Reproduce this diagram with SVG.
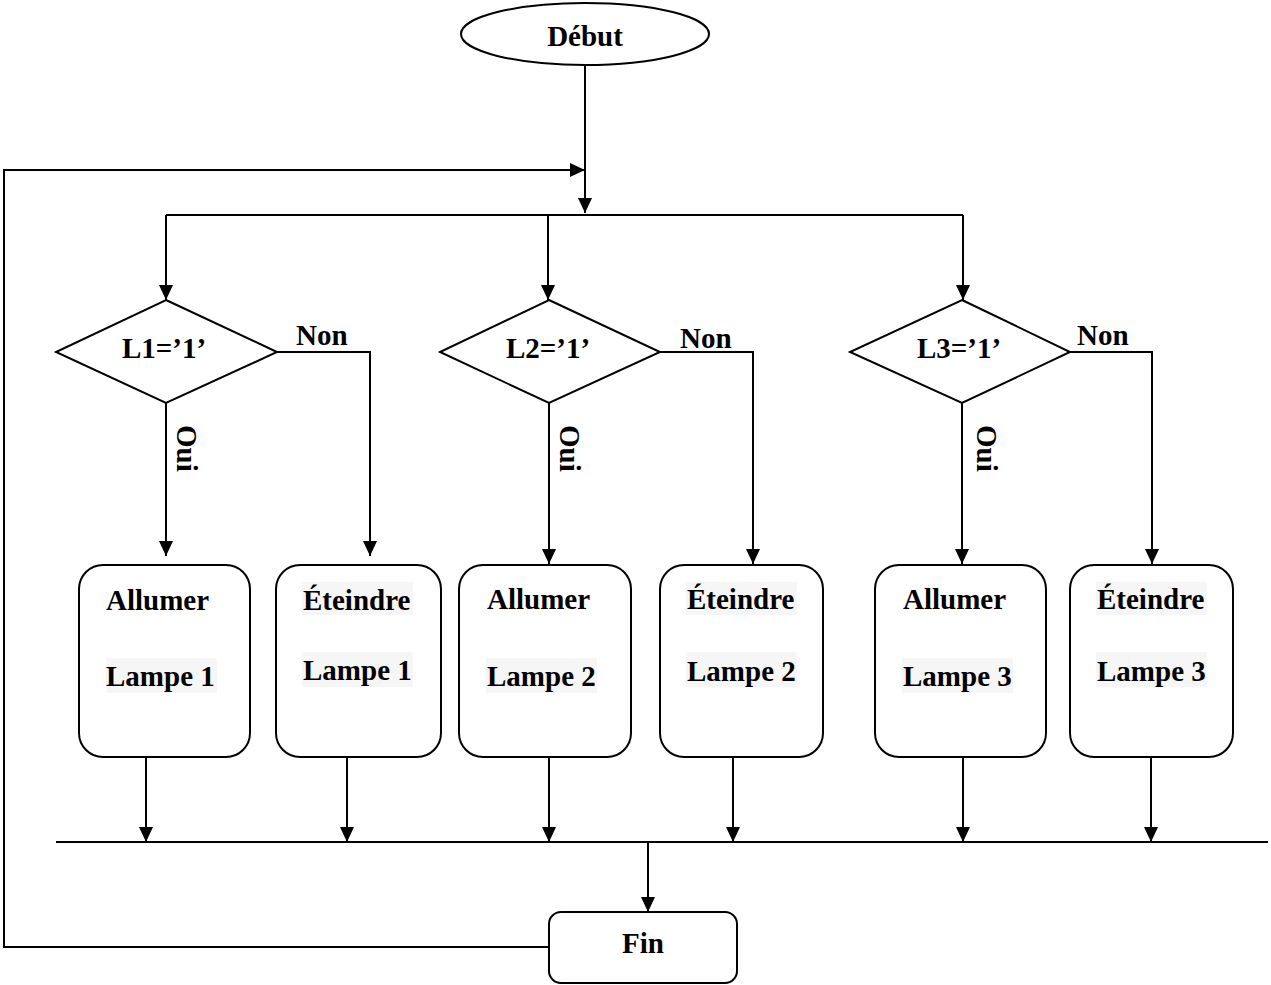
<svg xmlns="http://www.w3.org/2000/svg" width="1271" height="985" viewBox="0 0 1271 985">
<defs>
<marker id="ah" markerUnits="userSpaceOnUse" markerWidth="16" markerHeight="16" refX="15" refY="7" orient="auto">
<path d="M0,0 L15,7 L0,14 z" fill="#000"/>
</marker>
<style>
.sh{fill:#fff;stroke:#000;stroke-width:2}
.ln{fill:none;stroke:#000;stroke-width:2}
.ar{fill:none;stroke:#000;stroke-width:2;marker-end:url(#ah)}
.t{font-family:"Liberation Serif","Times New Roman",serif;font-weight:bold;font-size:29px;fill:#000}
.c{text-anchor:middle}
.hl{fill:#f6f6f6}
</style>
</defs>
<rect width="1271" height="985" fill="#fff"/>
<g id="connectors">
<line class="ar" x1="585" y1="65" x2="585" y2="213"/>
<polyline class="ar" points="549,947 4,947 4,170 585,170"/>
<line class="ln" x1="166" y1="215" x2="963" y2="215"/>
<line class="ar" x1="166" y1="215" x2="166" y2="300"/>
<line class="ar" x1="548" y1="215" x2="548" y2="300"/>
<line class="ar" x1="963" y1="215" x2="963" y2="300"/>
<line class="ar" x1="166" y1="403" x2="166" y2="556"/>
<polyline class="ar" points="277,352 370,352 370,556"/>
<line class="ar" x1="549" y1="403" x2="549" y2="564"/>
<polyline class="ar" points="660,352 753,352 753,564"/>
<line class="ar" x1="962" y1="403" x2="962" y2="564"/>
<polyline class="ar" points="1070,352 1152,352 1152,564"/>
<line class="ar" x1="146" y1="757" x2="146" y2="842"/>
<line class="ar" x1="347" y1="757" x2="347" y2="842"/>
<line class="ar" x1="549" y1="757" x2="549" y2="842"/>
<line class="ar" x1="733" y1="757" x2="733" y2="842"/>
<line class="ar" x1="963" y1="757" x2="963" y2="842"/>
<line class="ar" x1="1151" y1="757" x2="1151" y2="842"/>
<line class="ln" x1="56" y1="842" x2="1268" y2="842"/>
<line class="ar" x1="648" y1="842" x2="648" y2="912"/>
<text class="t" x="296" y="345">Non</text>
<text class="t" x="680" y="348">Non</text>
<text class="t" x="1077" y="345">Non</text>
<text class="t" transform="translate(177,425) rotate(90)">Oui</text>
<text class="t" transform="translate(560,425) rotate(90)">Oui</text>
<text class="t" transform="translate(977,425) rotate(90)">Oui</text>
</g>
<g id="debut">
<ellipse class="sh" cx="585" cy="34" rx="124" ry="31"/>
<text class="t c" x="585" y="46">Début</text>
</g>
<g id="test1">
<polygon class="sh" points="166,300 277,352 166,403 56,352"/>
<text class="t" x="122" y="358">L1=’1’</text>
</g>
<g id="test2">
<polygon class="sh" points="549,300 660,352 549,403 440,352"/>
<text class="t" x="506" y="358">L2=’1’</text>
</g>
<g id="test3">
<polygon class="sh" points="962,300 1070,352 962,403 850,352"/>
<text class="t" x="917" y="358">L3=’1’</text>
</g>
<g id="allumer1">
<rect class="sh" x="79" y="565" width="171" height="192" rx="24"/>
<rect class="hl" x="106" y="658" width="111" height="35"/>
<text class="t" x="106" y="610">Allumer</text>
<text class="t" x="106" y="686">Lampe 1</text>
</g>
<g id="eteindre1">
<rect class="sh" x="276" y="565" width="165" height="192" rx="24"/>
<rect class="hl" x="302" y="582" width="111" height="33"/>
<rect class="hl" x="302" y="652" width="111" height="35"/>
<text class="t" x="303" y="610">Éteindre</text>
<text class="t" x="303" y="680">Lampe 1</text>
</g>
<g id="allumer2">
<rect class="sh" x="459" y="565" width="172" height="192" rx="24"/>
<rect class="hl" x="486" y="658" width="111" height="35"/>
<text class="t" x="487" y="609">Allumer</text>
<text class="t" x="487" y="686">Lampe 2</text>
</g>
<g id="eteindre2">
<rect class="sh" x="660" y="565" width="163" height="192" rx="24"/>
<rect class="hl" x="686" y="582" width="111" height="33"/>
<rect class="hl" x="686" y="652" width="111" height="35"/>
<text class="t" x="687" y="609">Éteindre</text>
<text class="t" x="687" y="681">Lampe 2</text>
</g>
<g id="allumer3">
<rect class="sh" x="875" y="565" width="171" height="192" rx="24"/>
<rect class="hl" x="902" y="658" width="111" height="35"/>
<text class="t" x="903" y="609">Allumer</text>
<text class="t" x="903" y="686">Lampe 3</text>
</g>
<g id="eteindre3">
<rect class="sh" x="1070" y="565" width="163" height="192" rx="24"/>
<rect class="hl" x="1096" y="582" width="111" height="33"/>
<rect class="hl" x="1096" y="652" width="111" height="35"/>
<text class="t" x="1097" y="609">Éteindre</text>
<text class="t" x="1097" y="681">Lampe 3</text>
</g>
<g id="fin">
<rect class="sh" x="549" y="912" width="188" height="71" rx="12"/>
<text class="t c" x="643" y="953">Fin</text>
</g>
</svg>
